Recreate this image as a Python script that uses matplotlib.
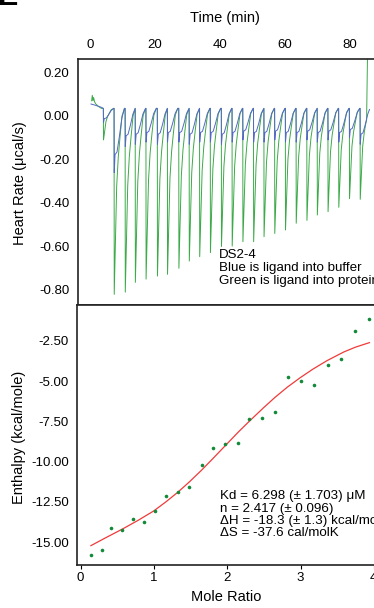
import numpy as np
import matplotlib.pyplot as plt

plt.rcParams['font.family'] = ['Liberation Sans', 'DejaVu Sans']
plt.rcParams['axes.unicode_minus'] = False

# ---- top panel: raw thermogram ----
# injection times (min) and peak minima (ucal/s)
inj_time = [4.1, 7.4, 10.8, 13.9, 17.2, 20.7, 23.8, 27.3, 30.5, 33.7, 37.0, 40.4, 43.7,
            47.0, 50.3, 53.5, 56.8, 60.1, 63.4, 66.7, 69.9, 73.2, 76.5, 79.8, 83.1]
green_min = [-0.11, -0.82, -0.81, -0.765, -0.75, -0.736, -0.728, -0.70, -0.667, -0.647,
             -0.628, -0.60, -0.598, -0.578, -0.578, -0.555, -0.54, -0.524, -0.493, -0.48,
             -0.455, -0.44, -0.42, -0.38, -0.383]
blue_min = [-0.03, -0.26, -0.14, -0.13, -0.12, -0.13, -0.12, -0.12, -0.13, -0.12,
            -0.12, -0.13, -0.12, -0.11, -0.12, -0.12, -0.11, -0.12, -0.12, -0.11,
            -0.12, -0.11, -0.12, -0.10, -0.13]
top_level = 0.035

# shape of one peak: minutes after injection, fraction of the peak depth
green_dt = [0.0, 0.05, 0.8, 1.3, 1.85, 2.45, 3.2]
green_frac = [0.0, 1.0, 0.42, 0.26, 0.15, 0.04, 0.0]
blue_dt = [0.0, 0.05, 0.3, 0.9, 1.6, 2.4, 3.2]
blue_frac = [0.0, 1.0, 0.72, 0.68, 0.45, 0.15, 0.0]

# pre-injection baseline and tail of each trace
green_start_t = [0.5, 0.7, 0.9, 1.1, 1.4, 1.8, 2.5, 3.5]
green_start_v = [0.07, 0.095, 0.07, 0.085, 0.065, 0.055, 0.045, 0.035]
green_end_t = [85.1, 85.7]
green_end_v = [-0.02, 0.6]
blue_start_t = [0.3, 1.5, 3.5]
blue_start_v = [0.055, 0.05, 0.04]
blue_end_t = [86.0]
blue_end_v = [0.03]

# ---- bottom panel: integrated heats ----
mole_ratio = [0.14, 0.29, 0.42, 0.57, 0.71, 0.86, 1.02, 1.17, 1.33, 1.48, 1.65, 1.81,
              1.97, 2.14, 2.30, 2.47, 2.65, 2.83, 3.00, 3.19, 3.37, 3.55, 3.74, 3.94]
enthalpy = [-15.79, -15.45, -14.13, -14.24, -13.55, -13.72, -13.08, -12.13, -11.88,
            -11.55, -10.23, -9.15, -8.90, -8.82, -7.35, -7.27, -6.92, -4.75, -5.00,
            -5.25, -4.00, -3.63, -1.88, -1.17]
fit_x = [0.14, 0.35, 0.57, 0.78, 1.0, 1.17, 1.33, 1.48, 1.645, 1.8, 2.0, 2.15, 2.3,
         2.49, 2.65, 2.82, 3.0, 3.17, 3.36, 3.59, 3.75, 3.94]
fit_y = [-15.21, -14.70, -14.18, -13.65, -13.05, -12.47, -11.88, -11.27, -10.55, -9.83,
         -8.88, -8.17, -7.50, -6.68, -6.02, -5.38, -4.78, -4.26, -3.74, -3.20, -2.90, -2.62]

time_ticks = [0, 20, 40, 60, 80]
rate_ticks = [0.2, 0.0, -0.2, -0.4, -0.6, -0.8]
ratio_ticks = [0, 1, 2, 3, 4]
enth_ticks = [-2.5, -5.0, -7.5, -10.0, -12.5, -15.0]


def build_trace(start_t, start_v, mins, dts, fracs, end_t, end_v):
    t = list(start_t)
    v = list(start_v)
    for i, (t0, m) in enumerate(zip(inj_time, mins)):
        nxt = inj_time[i + 1] if i + 1 < len(inj_time) else end_t[0]
        for dt, f in zip(dts, fracs):
            if t0 + dt < nxt:
                t.append(t0 + dt)
                v.append(top_level + f * (m - top_level))
    return t + list(end_t), v + list(end_v)


gt, gv = build_trace(green_start_t, green_start_v, green_min, green_dt, green_frac,
                     green_end_t, green_end_v)
bt, bv = build_trace(blue_start_t, blue_start_v, blue_min, blue_dt, blue_frac,
                     blue_end_t, blue_end_v)

W, H = 374, 608
fig = plt.figure(figsize=(W / 100, H / 100), dpi=100)

# axes placed in pixels; right side runs off the figure like the cropped original
ax1 = fig.add_axes([78 / W, 1 - 305 / H, 304.5 / W, 246 / H])
ax2 = fig.add_axes([77 / W, 1 - 565 / H, 311.5 / W, 260 / H])

ax1.plot(gt, gv, color='#3caa48', lw=0.7)
ax1.plot(bt, bv, color='#5568c8', lw=0.7)
ax1.set_xlim(-3.7, 90)
ax1.set_ylim(-0.869, 0.262)
ax1.xaxis.tick_top()
ax1.set_xticks(time_ticks)
ax1.set_yticks(rate_ticks)
ax1.set_yticklabels(['%.2f' % r for r in rate_ticks])
ax1.tick_params(axis='x', length=0, pad=6, labelsize=9.5)
ax1.tick_params(axis='y', length=0, pad=6, labelsize=9.5)
ax1.set_xlabel('Time (min)', fontsize=10.5)
ax1.xaxis.set_label_position('top')
ax1.xaxis.set_label_coords(0.483, 1.167)
ax1.xaxis.label.set_va('center')
ax1.set_ylabel('Heart Rate (μcal/s)', fontsize=10.5)
ax1.yaxis.set_label_coords(-0.19, 0.496)
ax1.yaxis.label.set_va('center')
ax1.text(0.463, 0.15, 'DS2-4\nBlue is ligand into buffer\nGreen is ligand into protein',
         transform=ax1.transAxes, fontsize=9.6, va='center', ha='left', linespacing=1.1)

ax2.plot(fit_x, fit_y, color='#f03a3a', lw=0.9)
ax2.plot(mole_ratio, enthalpy, 'o', color='#138a3a', ms=2.6, mec='none')
ax2.set_xlim(-0.05, 4.2)
ax2.set_ylim(-16.41, -0.287)
ax2.set_xticks(ratio_ticks)
ax2.set_yticks(enth_ticks)
ax2.set_yticklabels(['%.2f' % e for e in enth_ticks])
ax2.tick_params(axis='x', length=3, width=0.8, pad=2, labelsize=9.5)
ax2.tick_params(axis='y', length=0, pad=6, labelsize=9.5)
ax2.set_xlabel('Mole Ratio', fontsize=10.5)
ax2.xaxis.set_label_coords(0.48, -0.123)
ax2.xaxis.label.set_va('center')
ax2.set_ylabel('Enthalpy (kcal/mole)', fontsize=10.5)
ax2.yaxis.set_label_coords(-0.185, 0.49)
ax2.yaxis.label.set_va('center')
ax2.text(0.459, 0.193, 'Kd = 6.298 (± 1.703) μM\nn = 2.417 (± 0.096)\n'
         'ΔH = -18.3 (± 1.3) kcal/mol\nΔS = -37.6 cal/molK',
         transform=ax2.transAxes, fontsize=9.6, va='center', ha='left', linespacing=1.05)

for ax in (ax1, ax2):
    for s in ax.spines.values():
        s.set_linewidth(1.2)
        s.set_color('#222222')

# panel letter, mostly cut off at the top edge
fig.text(-0.005, 0.992, 'E', fontsize=22, fontweight='bold', va='baseline', ha='left')

fig.savefig('out.png', dpi=100)
